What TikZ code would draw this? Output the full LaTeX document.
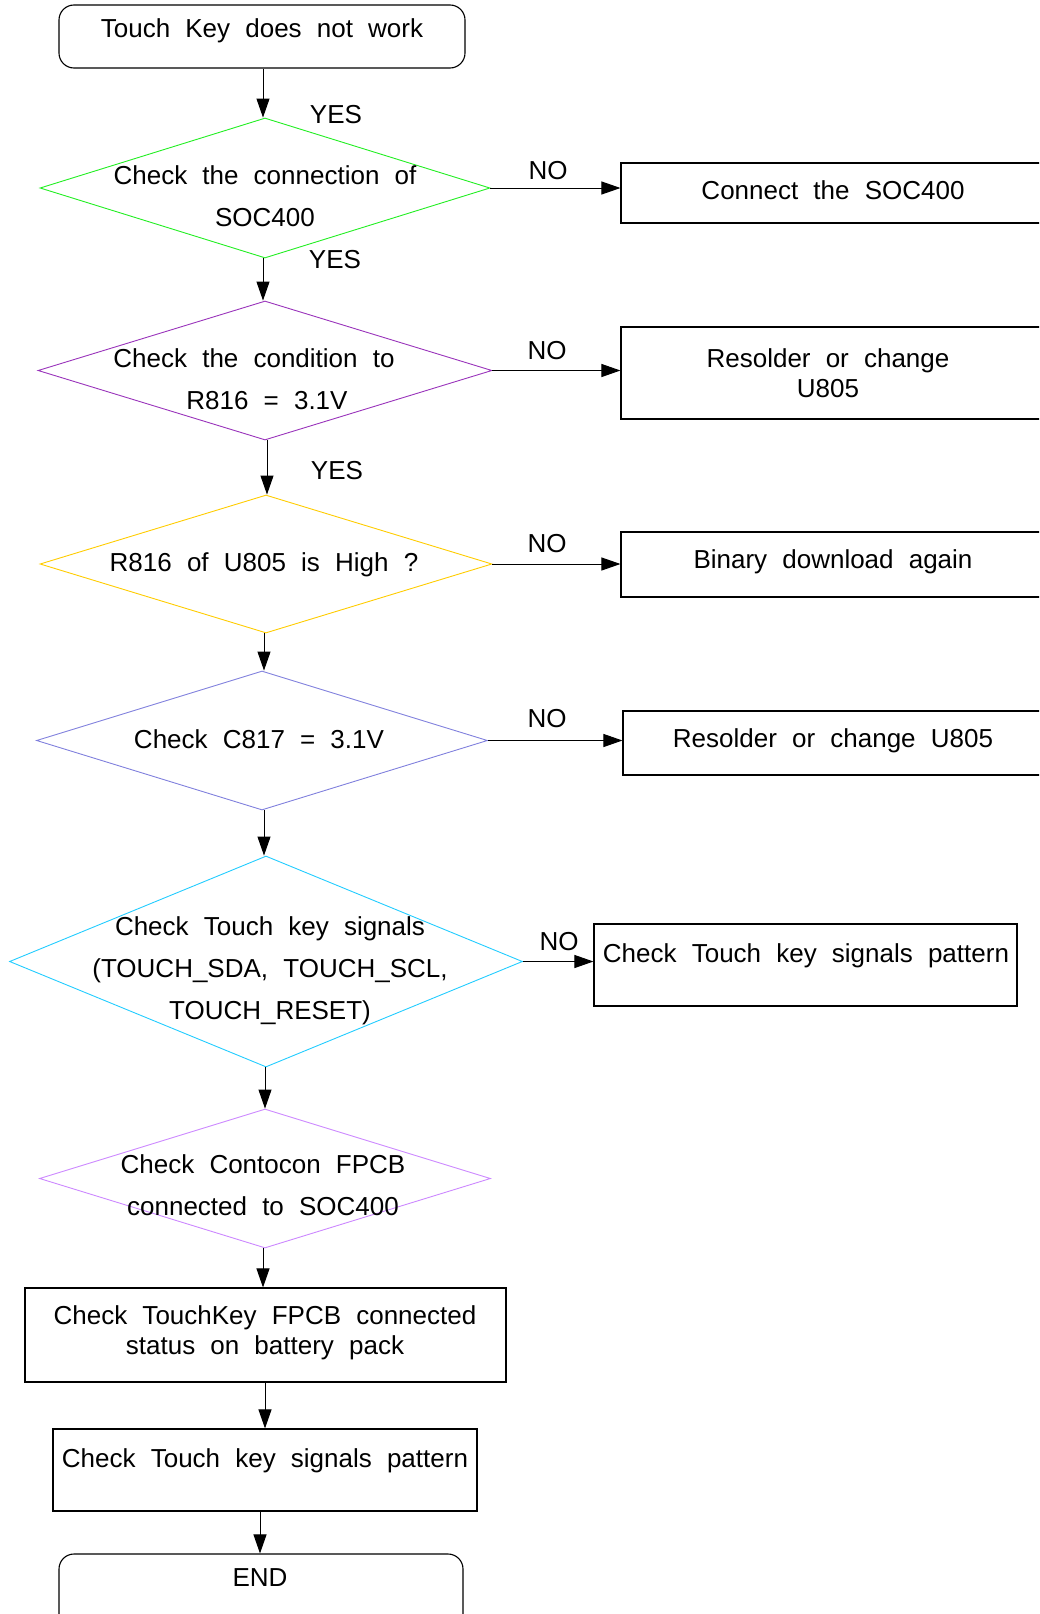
\documentclass[tikz,border=0pt]{standalone}
\usepackage{fontspec}
\setmainfont{Liberation Sans}[WordSpace=2.1]
\usetikzlibrary{shapes.geometric,arrows.meta}
\definecolor{cgreen}{HTML}{22EE22}
\definecolor{cpurple}{HTML}{9933BB}
\definecolor{cgold}{HTML}{FFCC00}
\definecolor{cperi}{HTML}{8080DD}
\definecolor{ccyan}{HTML}{22CCFF}
\definecolor{clav}{HTML}{CC88FF}
\begin{document}
\begin{tikzpicture}[x=1pt,y=-1pt,
  every node/.style={font=\fontsize{26}{30}\selectfont},
  dia/.style={draw, shape=diamond, inner sep=0pt, line width=0.9pt},
  box/.style={draw, rectangle, inner sep=0pt, line width=1.1pt},
  term/.style={draw, rectangle, rounded corners=15pt, inner sep=0pt, line width=1.1pt},
  txt/.style={anchor=base, align=center, inner sep=0pt},
  dtxt/.style={anchor=base, align=center, inner sep=0pt, font=\fontsize{26}{42}\selectfont},
  lbl/.style={anchor=base, inner sep=0pt},
  arr/.style={-{Triangle[length=19pt,width=13pt]}, line width=1pt},
]
\useasboundingbox (0,0) rectangle (1039,1614);
\clip (0,0) rectangle (1039,1614);

% start
\node[term, minimum width=406pt, minimum height=63pt] (start) at (262,36.5) {};
\node[txt] (tstart) at (262,37) {Touch Key does not work};

% diamonds (multi-line texts: y is the baseline of the last line)
\node[dia, draw=cgreen, minimum width=450pt, minimum height=140pt] (d1) at (265,188) {};
\node[dtxt] (t1) at (265,226) {Check the connection of\\SOC400};
\node[dia, draw=cpurple, minimum width=454pt, minimum height=139pt] (d2) at (265,370.5) {};
\node[dtxt] (t2) at (267,409) {Check the condition to\hspace*{26pt}\\R816 = 3.1V};
\node[dia, draw=cgold, minimum width=452pt, minimum height=138pt] (d3) at (266,564) {};
\node[txt] (t3) at (264,571) {R816 of U805 is High ?};
\node[dia, draw=cperi, minimum width=451pt, minimum height=139pt] (d4) at (262,740.5) {};
\node[txt] (t4) at (259,748) {Check C817 = 3.1V};
\node[dia, draw=ccyan, minimum width=513pt, minimum height=211pt] (d5) at (266,961.5) {};
\node[dtxt] (t5) at (270,1019) {Check Touch key signals\\(TOUCH\_SDA, TOUCH\_SCL,\\TOUCH\_RESET)};
\node[dia, draw=clav, minimum width=451pt, minimum height=139pt] (d6) at (265,1178.5) {};
\node[dtxt] (t6) at (263,1215) {Check Contocon FPCB\\connected to SOC400};

% right boxes
\node[box, minimum width=430pt, minimum height=60pt] (b1) at (836,193) {};
\node[txt] (tb1) at (833,199) {Connect the SOC400};
\node[box, minimum width=430pt, minimum height=92pt] (b2) at (836,373) {};
\node[txt] (tb2) at (828,397) {Resolder or change\\U805};
\node[box, minimum width=430pt, minimum height=65pt] (b3) at (836,564.5) {};
\node[txt] (tb3) at (833,568) {Binary download again};
\node[box, minimum width=430pt, minimum height=64pt] (b4) at (838,743) {};
\node[txt] (tb4) at (833,747) {Resolder or change U805};
\node[box, minimum width=423pt, minimum height=82pt] (b5) at (805.5,965) {};
\node[txt] (tb5) at (806,962) {Check Touch key signals pattern};

% bottom boxes
\node[box, minimum width=481pt, minimum height=94pt] (b6) at (265.5,1335) {};
\node[txt] (tb6) at (265,1354) {Check TouchKey FPCB connected\\status on battery pack};
\node[box, minimum width=424pt, minimum height=82pt] (b7) at (265,1470) {};
\node[txt] (tb7) at (265,1467) {Check Touch key signals pattern};
\node[term, minimum width=404pt, minimum height=80pt] (endn) at (261,1594) {};
\node[txt] (tend) at (260,1586) {END};

% labels
\node[lbl] (y1) at (336,123) {YES};
\node[lbl] (y2) at (335,268) {YES};
\node[lbl] (y3) at (337,479) {YES};
\node[lbl] (n1) at (548,179) {NO};
\node[lbl] (n2) at (547,359) {NO};
\node[lbl] (n3) at (547,552) {NO};
\node[lbl] (n4) at (547,727) {NO};
\node[lbl] (n5) at (559,950) {NO};

% vertical connectors
\draw[arr] (start.south -| 263,0) -- (d1.north -| 263,0);
\draw[arr] (d1.south -| 263,0) -- (d2.north -| 263,0);
\draw[arr] (d2.south -| 267,0) -- (d3.north -| 267,0);
\draw[arr] (d3.south -| 264,0) -- (d4.north -| 264,0);
\draw[arr] (d4.south -| 264,0) -- (d5.north -| 264,0);
\draw[arr] (d5.south -| 265,0) -- (d6.north -| 265,0);
\draw[arr] (d6.south -| 263,0) -- (b6.north -| 263,0);
\draw[arr] (b6.south -| 265,0) -- (b7.north -| 265,0);
\draw[arr] (b7.south -| 260,0) -- (endn.north -| 260,0);

% horizontal connectors
\draw[arr] (d1.east) -- (d1.east -| b1.west);
\draw[arr] (d2.east) -- (d2.east -| b2.west);
\draw[arr] (d3.east) -- (d3.east -| b3.west);
\draw[arr] (d4.east) -- (d4.east -| b4.west);
\draw[arr] (d5.east) -- (d5.east -| b5.west);
\end{tikzpicture}
\end{document}
